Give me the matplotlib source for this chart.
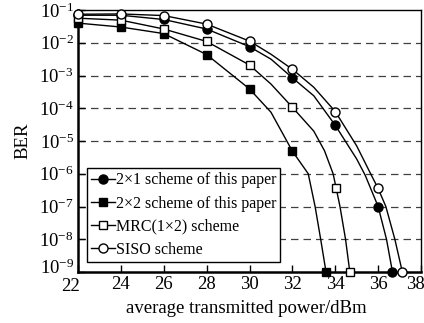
import numpy as np
import matplotlib
matplotlib.use('Agg')
import matplotlib.pyplot as plt
from matplotlib.transforms import ScaledTranslation

plt.rcParams['font.family'] = ['Liberation Serif', 'DejaVu Serif']
plt.rcParams['mathtext.fontset'] = 'custom'
plt.rcParams['mathtext.rm'] = 'Liberation Serif'
plt.rcParams['mathtext.it'] = 'Liberation Serif:italic'

# curve data: x in dBm, BER as log10 exponent
x_21 = [22, 24, 26, 28, 30, 31, 32, 33, 34, 35, 35.4, 36, 36.39, 36.67]
e_21 = [-1.16, -1.16, -1.29, -1.58, -2.12, -2.5, -3.07, -3.62, -4.52, -5.55, -6.05, -7.0, -8, -9]
m_21 = [0, 1, 2, 3, 4, 6, 8, 11, 13]

x_22 = [22, 24, 26, 28, 30, 31, 32, 32.74, 33.06, 33.32, 33.57]
e_22 = [-1.40, -1.52, -1.72, -2.36, -3.41, -4.12, -5.31, -6, -7, -8, -9]
m_22 = [0, 1, 2, 3, 4, 6, 10]

x_mrc = [22, 24, 26, 28, 30, 31, 32, 33, 33.5, 33.9, 34.04, 34.22, 34.48, 34.68]
e_mrc = [-1.25, -1.31, -1.58, -1.96, -2.68, -3.26, -3.97, -4.7, -5.3, -6.0, -6.43, -7, -8, -9]
m_mrc = [0, 1, 2, 3, 4, 6, 10, 13]

x_siso = [22, 24, 26, 28, 30, 31, 32, 33, 34, 35, 35.65, 36, 36.36, 36.78, 37.13]
e_siso = [-1.13, -1.12, -1.17, -1.43, -1.95, -2.35, -2.81, -3.36, -4.1, -5.15, -6, -6.45, -7, -8, -9]
m_siso = [0, 1, 2, 3, 4, 6, 8, 11, 14]

labels = ['2×1 scheme of this paper', '2×2 scheme of this paper',
          'MRC(1×2) scheme', 'SISO scheme']

fig = plt.figure(figsize=(4.24, 3.23), dpi=100)
ax = fig.add_axes([78/424, 1-272/323, 343/424, 262/323])

# dashed grid lines at the decades
for d in range(-8, -1):
    ax.axhline(10.0**d, color='0.25', lw=0.9, ls=(0, (6, 4)), zorder=1)

ax.plot(x_21, np.power(10.0, e_21), '-o', color='k', lw=1.0, ms=6.5,
        markevery=m_21, label=labels[0], zorder=3, clip_on=False)
ax.plot(x_22, np.power(10.0, e_22), '-s', color='k', lw=1.0, ms=6,
        markevery=m_22, label=labels[1], zorder=3, clip_on=False)
ax.plot(x_mrc, np.power(10.0, e_mrc), '-s', color='k', lw=1.0, ms=6,
        mfc='white', mew=1, markevery=m_mrc, label=labels[2], zorder=3, clip_on=False)
ax.plot(x_siso, np.power(10.0, e_siso), '-o', color='k', lw=1.0, ms=6.5,
        mfc='white', mew=1, markevery=m_siso, label=labels[3], zorder=3, clip_on=False)

ax.set_yscale('log')
ax.set_xlim(22, 38)
ax.set_ylim(1e-9, 1e-1)
ax.set_xticks(range(22, 39, 2))
ax.set_yticks([10.0**d for d in range(-9, 0)])
ax.minorticks_off()
ax.tick_params(direction='in', labelsize=13.5, length=5, width=1, pad=3)

# nudge the corner labels like in the original
xl = ax.get_xticklabels()
xl[0].set_transform(xl[0].get_transform() + ScaledTranslation(-0.08, -0.02, fig.dpi_scale_trans))
xl[-1].set_transform(xl[-1].get_transform() + ScaledTranslation(-0.06, 0, fig.dpi_scale_trans))
yl = ax.get_yticklabels()
yl[0].set_transform(yl[0].get_transform() + ScaledTranslation(0, 0.06, fig.dpi_scale_trans))

for s in ['left', 'bottom']:
    ax.spines[s].set_linewidth(1.8)
for s in ['top', 'right']:
    ax.spines[s].set_linewidth(1.0)

ax.set_xlabel('average transmitted power/dBm', fontsize=13.5)
ax.xaxis.set_label_coords(0.49, -0.105)
ax.set_ylabel('BER', fontsize=13.5)
ax.yaxis.set_label_coords(-0.135, 0.5)

leg = ax.legend(loc='lower left', bbox_to_anchor=(87/424, 1-262/323),
                bbox_transform=fig.transFigure, borderaxespad=0,
                fontsize=11.5, frameon=True, fancybox=False, framealpha=1,
                edgecolor='k', handlelength=1.5, handletextpad=0.05,
                borderpad=0.25, labelspacing=0.45)
leg.get_frame().set_linewidth(1.0)

fig.savefig('out.png', dpi=100)
